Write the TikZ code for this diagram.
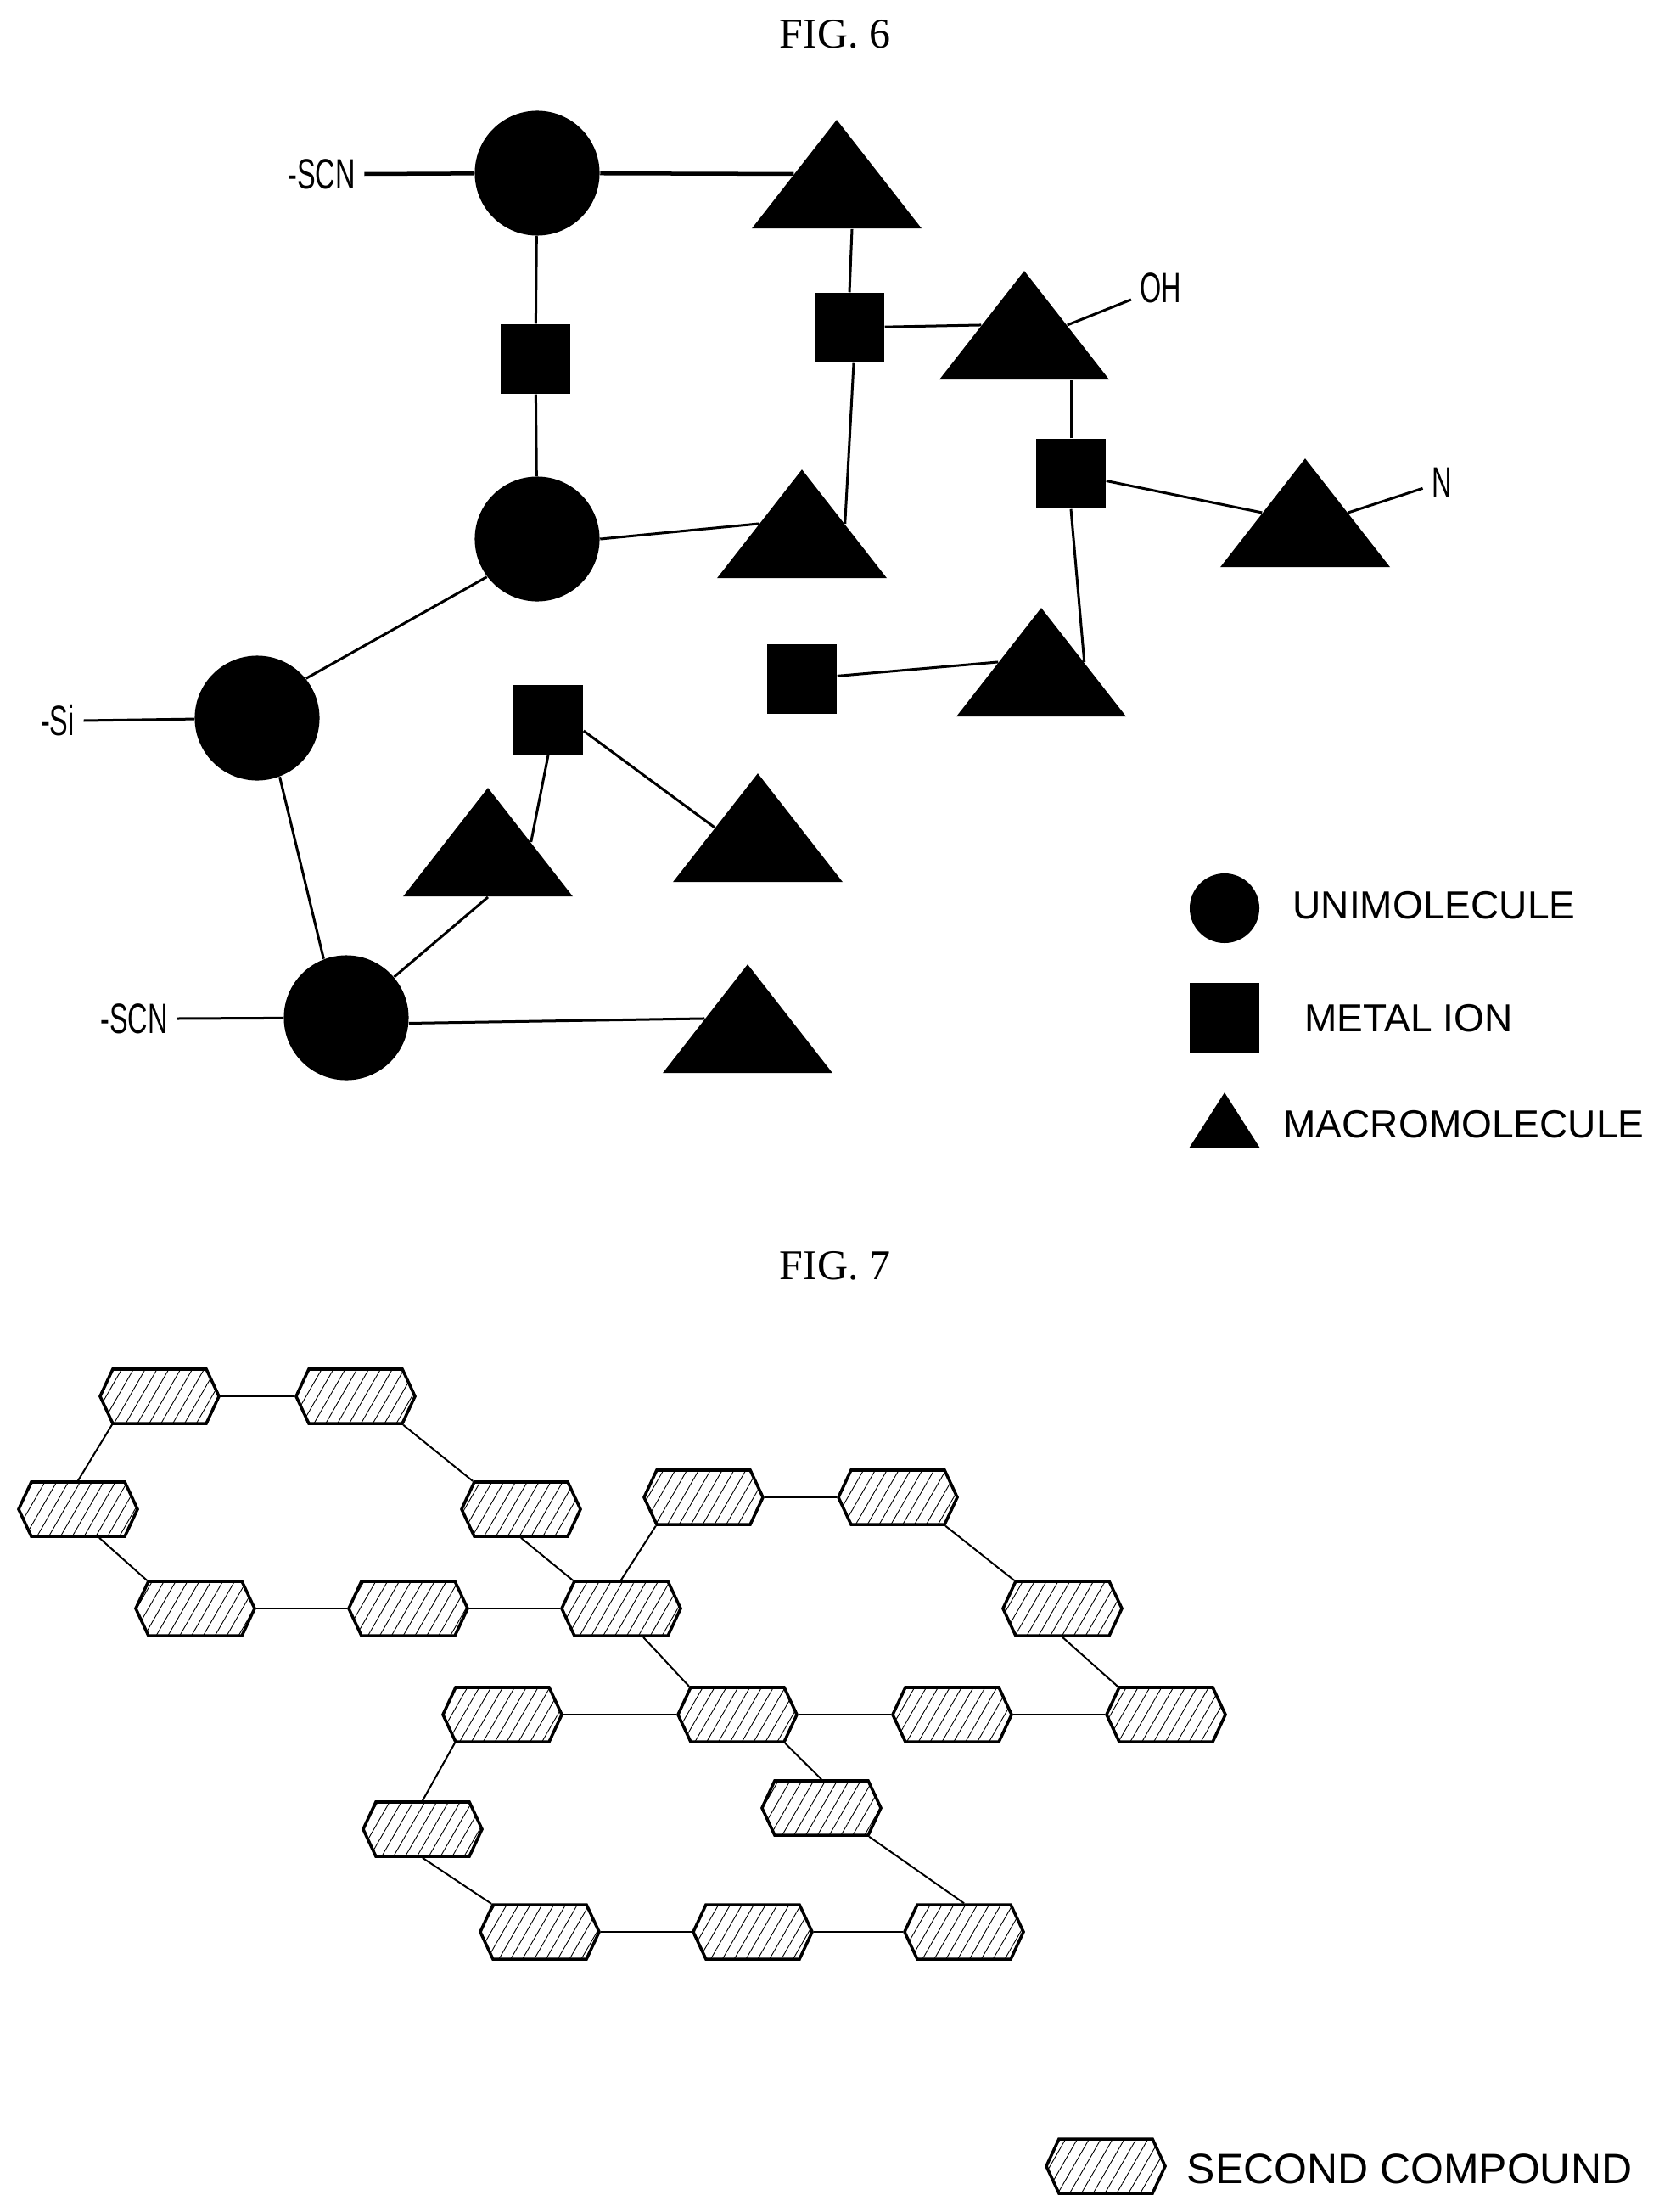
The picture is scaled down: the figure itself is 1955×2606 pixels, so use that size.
\documentclass[tikz,border=0pt]{standalone}
\usepackage{fontspec}
\setmainfont{Liberation Sans}
\newfontfamily\figfont{Liberation Serif}
\newfontfamily\narrowfont[FakeStretch=0.65]{Liberation Sans}
\usetikzlibrary{shapes.geometric,shapes.symbols,patterns.meta}

\begin{document}
\begin{tikzpicture}[
    x=0.01cm, y=-0.01cm,
    roundnode/.style={circle, fill=black, inner sep=0pt, minimum size=1.47cm},
    squarenode/.style={rectangle, fill=black, inner sep=0pt, minimum width=0.82cm, minimum height=0.82cm},
    trinode/.style={isosceles triangle, isosceles triangle apex angle=76, isosceles triangle stretches,
        shape border rotate=90, anchor=apex, fill=black, inner sep=0pt, minimum width=2cm, minimum height=1.28cm},
    hexnode/.style={signal, signal to=east and west, signal pointer angle=130, draw=black, line width=1pt,
        pattern={Lines[angle=60, distance=0.12cm, line width=0.009cm]}, inner sep=0pt,
        minimum width=1.4cm, minimum height=0.64cm},
    bond/.style={draw=black, line width=0.03cm},
    boldbond/.style={draw=black, line width=0.045cm},
    hexbond/.style={draw=black, line width=0.02cm},
    figlabel/.style={font=\figfont\fontsize{14.2}{16}\selectfont},
    grouplabel/.style={font=\narrowfont\fontsize{14.2}{16}\selectfont, inner sep=0.1cm},
    keylabel/.style={font=\fontsize{13.1}{15}\selectfont, inner sep=0pt}
    ]
    \useasboundingbox (0,0) rectangle (1955,2606);

    \node[figlabel] (fig6) at (984,40) {FIG. 6};
    \node[figlabel] (fig7) at (984,1491) {FIG. 7};

    %Nodes
    \node[roundnode] (c1) at (633,204) {};
    \node[roundnode] (c2) at (633,635) {};
    \node[roundnode] (c3) at (303,846) {};
    \node[roundnode] (c4) at (408,1199) {};

    \node[squarenode] (s1) at (631,423) {};
    \node[squarenode] (s2) at (1001,386) {};
    \node[squarenode] (s3) at (1262,558) {};
    \node[squarenode] (s4) at (945,800) {};
    \node[squarenode] (s5) at (646,848) {};

    \node[trinode] (t1) at (986,140) {};
    \node[trinode] (t2) at (945,552) {};
    \node[trinode] (t3) at (1207,318) {};
    \node[trinode] (t4) at (1538,539) {};
    \node[trinode] (t5) at (1227,715) {};
    \node[trinode] (t6) at (893,910) {};
    \node[trinode] (t7) at (575,927) {};
    \node[trinode] (t8) at (881,1135) {};

    \node[grouplabel] (scnA) at (379,205) {-SCN};
    \node[grouplabel] (scnB) at (158,1200) {-SCN};
    \node[grouplabel] (si) at (68,849) {-Si};
    \node[grouplabel] (oh) at (1368,339) {OH};
    \node[grouplabel] (n) at (1699,568) {N};

    %Lines
    \draw[boldbond] (scnA.east) -- (c1);
    \draw[boldbond] (c1) -- (t1.left side);
    \draw[bond] (c1) -- (s1);
    \draw[bond] (s1) -- (c2);
    \draw[bond] (c2.east) -- (t2.left side);
    \draw[bond] (c2.217) -- (c3.39);
    \draw[bond] (si.east) -- (c3);
    \draw[bond] (c3.-69) -- (c4.111);
    \draw[bond] (scnB.east) -- (c4);
    \draw[bond] (c4.-5) -- (t8.left side);
    \draw[bond] (c4) -- (t7.lower side);
    \draw[bond] (s5.south) -- (t7.right side);
    \draw[bond] ([yshift=-0.13cm]s5.east) -- (t6.left side);
    \draw[bond] (s2.north) -- ([xshift=0.03cm]s2.north |- t1.lower side);
    \draw[bond] ([xshift=0.05cm]s2.south) -- (t2.right side);
    \draw[bond] (s2) -- (t3.left side);
    \draw[bond] (t3.right side) -- (oh);
    \draw[bond] (s3.north) -- (s3.north |- t3.lower side);
    \draw[bond] (s3.south) -- (t5.right side);
    \draw[bond] (s3) -- (t4.left side);
    \draw[bond] (t4.right side) -- (n);
    \draw[bond] (s4) -- (t5.left side);

    %Legend
    \node[roundnode, minimum size=0.82cm] (keyc) at (1443,1070) {};
    \node[squarenode] (keys) at (1443,1199) {};
    \node[trinode, minimum width=0.83cm, minimum height=0.65cm] (keyt) at (1443,1286) {};
    \node[keylabel] (keyclabel) at (1690,1067) {UNIMOLECULE};
    \node[keylabel] (keyslabel) at (1660,1200) {METAL ION};
    \node[keylabel] (keytlabel) at (1725,1325) {MACROMOLECULE};

    %Nodes
    \node[hexnode] (h1) at (188,1645) {};
    \node[hexnode] (h2) at (419,1645) {};
    \node[hexnode] (h3) at (92,1778) {};
    \node[hexnode] (h4) at (614,1778) {};
    \node[hexnode] (h5) at (230,1895) {};
    \node[hexnode] (h6) at (481,1895) {};
    \node[hexnode] (h7) at (732,1895) {};
    \node[hexnode] (h8) at (829,1764) {};
    \node[hexnode] (h11) at (1058,1764) {};
    \node[hexnode] (h12) at (1252,1895) {};
    \node[hexnode] (h9) at (592,2020) {};
    \node[hexnode] (h10) at (869,2020) {};
    \node[hexnode] (h14) at (1122,2020) {};
    \node[hexnode] (h13) at (1374,2020) {};
    \node[hexnode] (h15) at (968,2130) {};
    \node[hexnode] (h16) at (498,2155) {};
    \node[hexnode] (h17) at (636,2276) {};
    \node[hexnode] (h18) at (887,2276) {};
    \node[hexnode] (h19) at (1136,2276) {};

    %Lines
    \draw[hexbond] (h1) -- (h2);
    \draw[hexbond] (h1.south west) -- (h3.north);
    \draw[hexbond] (h2.south east) -- (h4.north west);
    \draw[hexbond] ([xshift=0.25cm]h3.south) -- (h5.north west);
    \draw[hexbond] (h4.south) -- (h7.north west);
    \draw[hexbond] (h5) -- (h6);
    \draw[hexbond] (h6) -- (h7);
    \draw[hexbond] (h7.north) -- (h8.south west);
    \draw[hexbond] ([xshift=0.26cm]h7.south) -- (h10.north west);
    \draw[hexbond] (h8) -- (h11);
    \draw[hexbond] (h11.south east) -- (h12.north west);
    \draw[hexbond] (h12.south) -- (h13.north west);
    \draw[hexbond] (h9) -- (h10);
    \draw[hexbond] (h10) -- (h14);
    \draw[hexbond] (h14) -- (h13);
    \draw[hexbond] (h10.south east) -- (h15.north);
    \draw[hexbond] (h15.south east) -- (h19.north);
    \draw[hexbond] (h9.south west) -- (h16.north);
    \draw[hexbond] (h16.south) -- (h17.north west);
    \draw[hexbond] (h17) -- (h18);
    \draw[hexbond] (h18) -- (h19);

    %Legend
    \node[hexnode] (keyh) at (1303,2552) {};
    \node[keylabel, font=\fontsize{14.2}{16}\selectfont] (keyhlabel) at (1661,2555) {SECOND COMPOUND};
\end{tikzpicture}
\end{document}
